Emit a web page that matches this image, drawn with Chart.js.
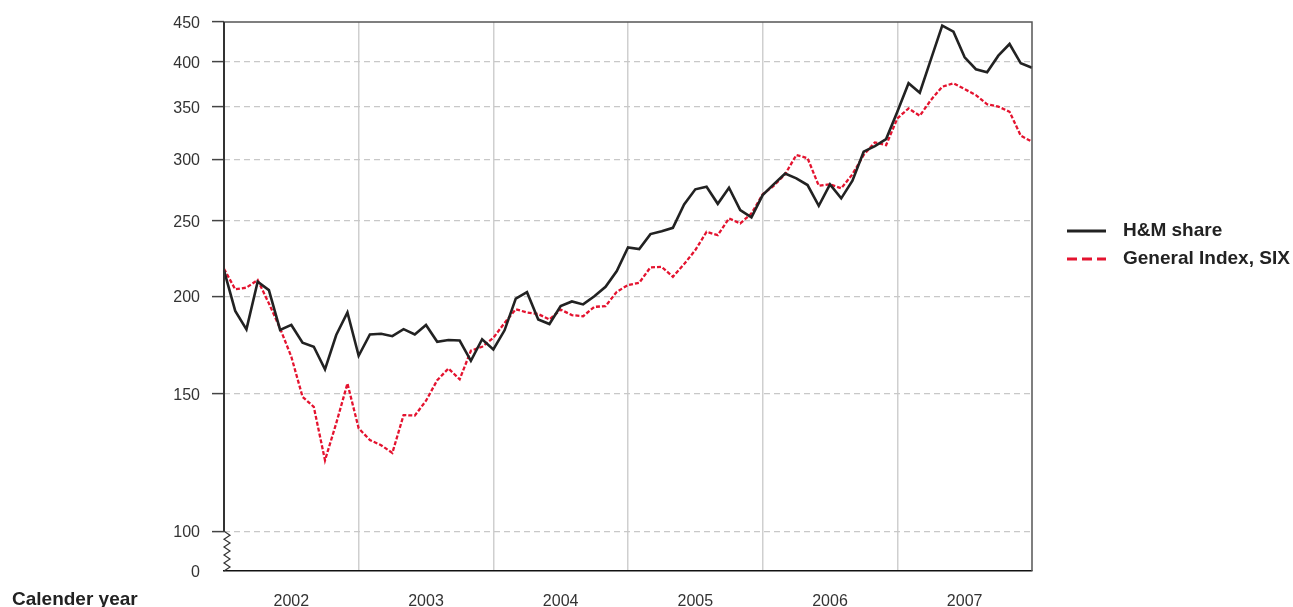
<!DOCTYPE html>
<html>
<head>
<meta charset="utf-8">
<script src="https://cdn.jsdelivr.net/npm/chart.js@4.4.1/dist/chart.umd.min.js"></script>
<style>
  html, body { margin: 0; padding: 0; background: #fff; }
  #wrap { width: 1293px; height: 607px; }
</style>
</head>
<body>
<div id="wrap"><canvas id="chart_hm"></canvas></div>
<script>
// ----------------------------------------------------------------------
//  data (month-end index values, Dec 2001 .. Dec 2007)
// ----------------------------------------------------------------------
var years = ['2002', '2003', '2004', '2005', '2006', '2007'];
var yTicks = [88.9, 100, 150, 200, 250, 300, 350, 400, 450];
var yMin = 88.9, yMax = 450;

var hmShare = [
	216, 191.7, 181.5, 208.9, 203.8, 181.2, 183.9, 174.5, 172.4, 161.3, 178.5, 190.8,
	167.9, 178.8, 179.2, 177.9, 181.6, 178.8, 183.9, 175.0, 175.9, 175.6, 165.4, 176.3,
	171.1, 181.0, 198.8, 202.6, 186.9, 184.4, 194.4, 197.1, 195.4, 200.2, 205.8, 215.6,
	231.2, 230.1, 240.5, 242.6, 245.0, 262.5, 274.5, 276.6, 263.0, 275.8, 258.2, 252.7,
	269.9, 278.8, 287.7, 283.6, 278.0, 261.5, 278.6, 267.3, 281.6, 306.8, 311.9, 318.4,
	345.2, 375.5, 365.2, 403.3, 445.1, 437.3, 405.4, 391.4, 387.9, 407.4, 421.7, 398.3,
	393.2
];
var generalIndex = [
	217, 204.3, 205.3, 210.0, 196.0, 182.0, 167.4, 148.7, 144.4, 123.3, 137.5, 154.7,
	135.5, 130.9, 128.9, 126.0, 140.9, 140.7, 147.0, 156.2, 161.7, 156.6, 170.4, 172.4,
	177.0, 185.0, 192.6, 190.8, 189.9, 186.9, 192.4, 189.3, 188.7, 194.0, 194.4, 202.8,
	206.9, 208.3, 218.0, 218.3, 212.0, 220.1, 229.4, 242.1, 239.8, 251.9, 248.2, 255.6,
	270.5, 277.5, 287.0, 303.8, 301.0, 277.4, 278.6, 275.3, 287.0, 303.8, 315.3, 312.8,
	338.5, 348.6, 341.1, 357.5, 371.7, 375.5, 369.1, 362.6, 352.9, 350.5, 345.2, 321.6,
	316.0
];

// one label per month point
var months = ['2001-12'];
years.forEach(function(y){
	for (var m = 1; m <= 12; m++) months.push(y + '-' + (m < 10 ? '0' + m : m));
});

var font = "'Liberation Sans', Arial, sans-serif";

// ----------------------------------------------------------------------
//  frame, broken axis, legend, axis caption
// ----------------------------------------------------------------------
var framePlugin = {
	id: 'frame',
	afterDraw: function(chart){
		var ctx = chart.ctx, a = chart.chartArea, ys = chart.scales.y;
		var y100 = ys.getPixelForValue(100);
		ctx.save();
		// top + right border
		ctx.strokeStyle = '#555';
		ctx.lineWidth = 1.5;
		ctx.beginPath();
		ctx.moveTo(a.left, a.top);
		ctx.lineTo(a.right, a.top);
		ctx.lineTo(a.right, a.bottom);
		ctx.stroke();
		// left axis with zigzag break under 100
		ctx.strokeStyle = '#333';
		ctx.lineWidth = 2;
		ctx.beginPath();
		ctx.moveTo(a.left, a.top);
		ctx.lineTo(a.left, y100);
		ctx.stroke();
		ctx.lineWidth = 1.2;
		ctx.beginPath();
		ctx.moveTo(a.left, y100);
		var n = 10, step = (a.bottom - y100) / n;
		for (var i = 1; i <= n; i++) {
			ctx.lineTo(i % 2 ? a.left + 6 : a.left, y100 + i * step);
		}
		ctx.stroke();

		// legend
		var lx = 1067, ly = 231;
		chart.data.datasets.forEach(function(ds, k){
			var yy = ly + k * 28;
			ctx.strokeStyle = ds.borderColor;
			ctx.lineWidth = 3;
			ctx.setLineDash(k ? [10, 5] : []);
			ctx.beginPath();
			ctx.moveTo(lx, yy);
			ctx.lineTo(lx + 39, yy);
			ctx.stroke();
			ctx.setLineDash([]);
			ctx.fillStyle = '#222';
			ctx.font = 'bold 19px ' + font;
			ctx.textBaseline = 'middle';
			ctx.textAlign = 'left';
			ctx.fillText(ds.label, 1123, yy);
		});

		ctx.fillStyle = '#222';
		ctx.font = 'bold 19px ' + font;
		ctx.textBaseline = 'middle';
		ctx.fillText('Calender year', 12, 600);
		ctx.restore();
	}
};

var drawGraph = function(){
	var ctx = document.getElementById('chart_hm').getContext('2d');
	var config = {
		type: 'line',
		data: {
			labels: months,
			datasets: [
				{
					label: 'H&M share',
					data: hmShare,
					borderColor: '#222222',
					borderWidth: 2.6,
					pointRadius: 0,
					tension: 0
				},
				{
					label: 'General Index, SIX',
					data: generalIndex,
					borderColor: '#e4132f',
					borderWidth: 2.3,
					borderDash: [4, 2],
					pointRadius: 0,
					tension: 0
				}
			]
		},
		options: {
			responsive: true,
			maintainAspectRatio: false,
			animation: false,
			layout: { padding: { top: 22, right: 261, left: 0, bottom: 0 } },
			plugins: {
				legend: { display: false },
				tooltip: { enabled: false }
			},
			scales: {
				x: {
					type: 'category',
					offset: false,
					afterFit: function(s){ s.height = 36; },
					border: { display: true, color: '#111', width: 1.5 },
					grid: {
						drawTicks: false,
						lineWidth: 1.5,
						color: function(c){
							var i = c.index;
							return (i % 12 === 0 && i > 0 && i < 72) ? '#cfcfcf' : 'rgba(0,0,0,0)';
						}
					},
					ticks: {
						autoSkip: false,
						maxRotation: 0,
						padding: 21,
						color: '#333',
						font: { family: font, size: 16 },
						callback: function(v, i){
							return i % 12 === 6 ? years[(i - 6) / 12] : '';
						}
					}
				},
				y: {
					type: 'logarithmic',
					min: yMin,
					max: yMax,
					bounds: 'data',
					afterBuildTicks: function(s){
						s.ticks = yTicks.map(function(v){ return { value: v }; });
					},
					afterFit: function(s){ s.width = 224; },
					border: { display: false, dash: [6, 4] },
					grid: {
						lineWidth: 1.2,
						tickLength: 12,
						tickWidth: 1.5,
						color: function(c){
							var v = c.tick && c.tick.value;
							return (v > yMin && v < yMax) ? '#c8c8c8' : 'rgba(0,0,0,0)';
						},
						tickColor: function(c){
							return (c.tick && c.tick.value === yMin) ? 'rgba(0,0,0,0)' : '#444';
						}
					},
					ticks: {
						padding: 12,
						labelOffset: 1.5,
						color: '#333',
						font: { family: font, size: 16 },
						callback: function(v){ return v === yMin ? '0' : v; }
					}
				}
			}
		},
		plugins: [framePlugin]
	};
	var myChart = new Chart(ctx, config);
};
window.onload = function(){
	drawGraph();
};
</script>
</body>
</html>
